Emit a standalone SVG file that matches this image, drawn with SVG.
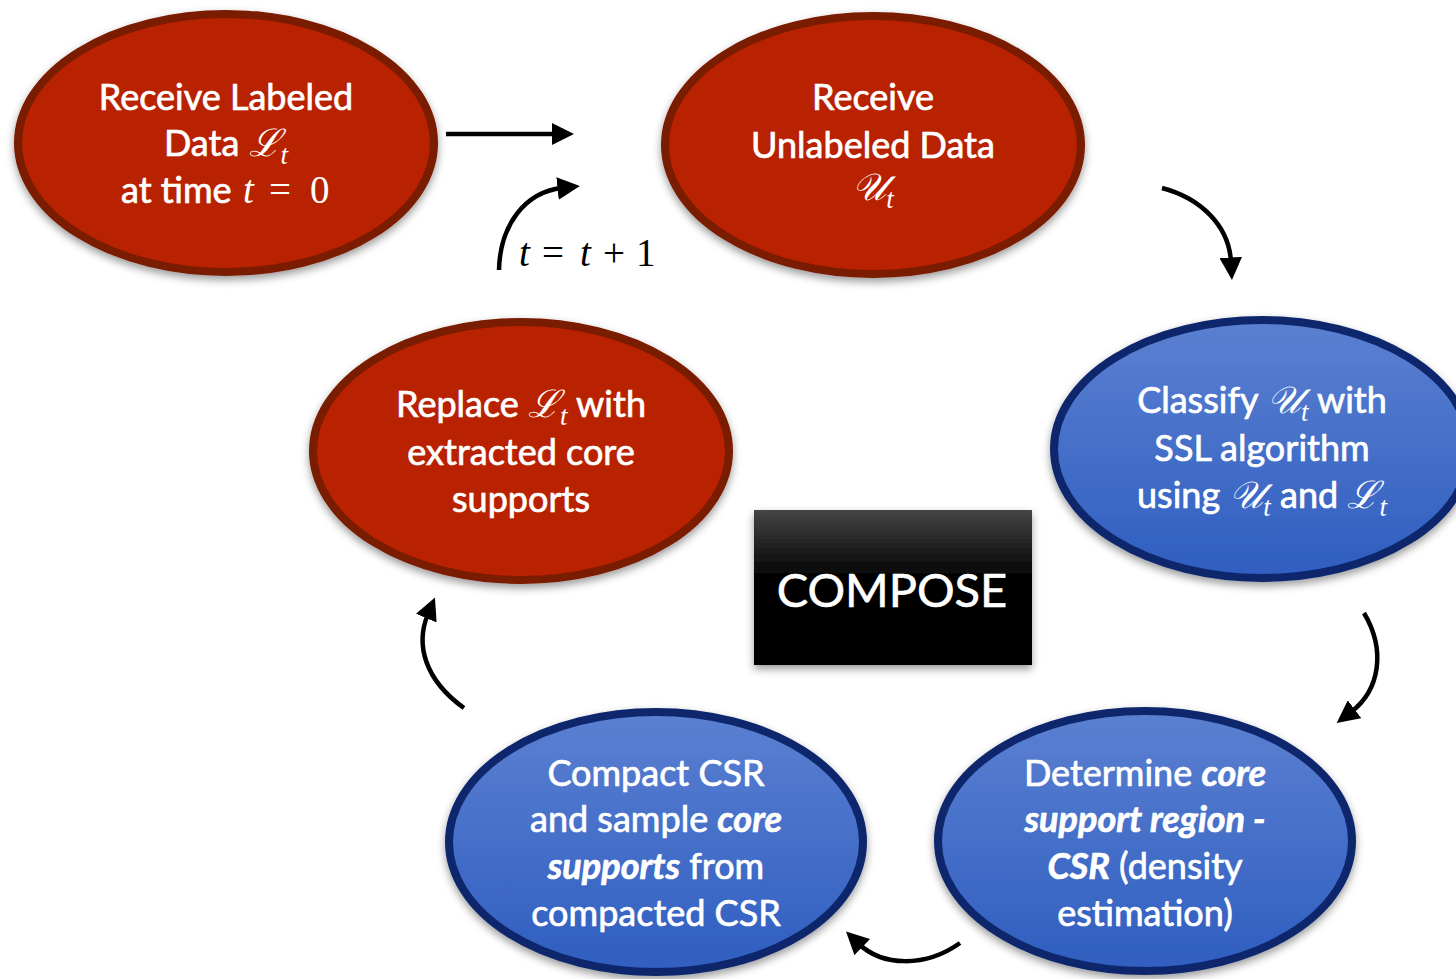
<svg xmlns="http://www.w3.org/2000/svg" width="1456" height="979" viewBox="0 0 1456 979">
  <defs>
    <linearGradient id="blueFill" x1="0" y1="0" x2="0" y2="1">
      <stop offset="0" stop-color="#5b80d1"/>
      <stop offset="1" stop-color="#2f5ec0"/>
    </linearGradient>
    <linearGradient id="boxFill" x1="0" y1="0" x2="0" y2="1">
      <stop offset="0" stop-color="#454545"/>
      <stop offset="0.45" stop-color="#000000"/>
      <stop offset="1" stop-color="#000000"/>
    </linearGradient>
    <filter id="shadow" x="-10%" y="-10%" width="120%" height="130%">
      <feDropShadow dx="0" dy="4" stdDeviation="4" flood-color="#000" flood-opacity="0.4"/>
    </filter>
    <marker id="head" viewBox="0 0 10 10" refX="2" refY="5" markerWidth="5" markerHeight="5" markerUnits="strokeWidth" orient="auto">
      <path d="M0,0 L10,5 L0,10 z" fill="#000"/>
    </marker>
  </defs>
  <style>
    .red { fill: #b92200; stroke: #7a1a00; stroke-width: 8; }
    .blue { fill: url(#blueFill); stroke: #0e286c; stroke-width: 8; }
    .lbl { font-family: Lato, "Noto Sans", sans-serif; font-size: 36px; fill: #fff; stroke: #fff; stroke-width: 0.7; text-anchor: middle; }
    .start { text-anchor: start; }
    .m { font-family: "DejaVu Serif", "Liberation Serif", serif; font-style: italic; font-size: 38px; stroke-width: 0; }
    .sub { font-family: "Liberation Serif", serif; font-style: italic; font-size: 27px; stroke-width: 0; }
    .bi { font-weight: bold; font-style: italic; }
    .conn { fill: none; stroke: #000; stroke-width: 4.5; }
    .eq { font-family: "Liberation Serif", serif; font-size: 39px; }
    .it { font-style: italic; }
  </style>

  <rect width="1456" height="979" fill="#fff"/>

  <!-- connectors -->
  <g id="connectors">
    <path class="conn" d="M446,134 L556,134" stroke-width="5" marker-end="url(#head)"/>
    <path class="conn" d="M499,270 C500,225 525,192 562,188" marker-end="url(#head)"/>
    <path class="conn" d="M1162,188 C1200,198 1229,225 1231,262" marker-end="url(#head)"/>
    <path class="conn" d="M1364,613 C1386,650 1380,690 1351,712" marker-end="url(#head)"/>
    <path class="conn" d="M960,943 C925,968 882,966 859,944" marker-end="url(#head)"/>
    <path class="conn" d="M464,708 C425,680 415,645 428,614" marker-end="url(#head)"/>
    <text class="eq" y="266" fill="#000"><tspan class="it" x="519">t</tspan><tspan x="542">=</tspan><tspan class="it" x="580">t</tspan><tspan x="603">+</tspan><tspan x="636">1</tspan></text>
  </g>

  <g id="receive-labeled">
    <ellipse class="red" cx="226" cy="143" rx="208" ry="129" filter="url(#shadow)"/>
    <text class="lbl" x="226" y="110">Receive Labeled</text>
    <text class="lbl" x="226" y="156">Data <tspan class="m">ℒ</tspan><tspan class="sub" dy="8">t</tspan></text>
    <text class="lbl start" x="121" y="203">at time</text>
    <text class="eq" y="203" fill="#fff"><tspan class="it" x="243">t</tspan><tspan x="269">=</tspan><tspan x="310">0</tspan></text>
  </g>

  <g id="receive-unlabeled">
    <ellipse class="red" cx="873" cy="145" rx="208" ry="129" filter="url(#shadow)"/>
    <text class="lbl" x="873" y="110">Receive</text>
    <text class="lbl" x="873" y="158">Unlabeled Data</text>
    <text class="lbl" x="873" y="200"><tspan class="m">𝒰</tspan><tspan class="sub" dy="8">t</tspan></text>
  </g>

  <g id="classify">
    <ellipse class="blue" cx="1262" cy="449" rx="208" ry="129" filter="url(#shadow)"/>
    <text class="lbl" x="1262" y="413">Classify <tspan class="m">𝒰</tspan><tspan class="sub" dy="8">t</tspan><tspan dy="-8"> with</tspan></text>
    <text class="lbl" x="1262" y="461">SSL algorithm</text>
    <text class="lbl" x="1262" y="508">using <tspan class="m">𝒰</tspan><tspan class="sub" dy="8">t</tspan><tspan dy="-8"> and </tspan><tspan class="m">ℒ</tspan><tspan class="sub" dy="8">t</tspan></text>
  </g>

  <g id="replace">
    <ellipse class="red" cx="521" cy="451" rx="208" ry="129" filter="url(#shadow)"/>
    <text class="lbl" x="521" y="417">Replace <tspan class="m">ℒ</tspan><tspan class="sub" dy="8">t</tspan><tspan dy="-8"> with</tspan></text>
    <text class="lbl" x="521" y="465">extracted core</text>
    <text class="lbl" x="521" y="512">supports</text>
  </g>

  <g id="compose">
    <rect x="754" y="510" width="278" height="155" fill="url(#boxFill)" filter="url(#shadow)"/>
    <text x="892" y="607" font-family="Lato, 'Noto Sans', sans-serif" font-size="47" fill="#fff" stroke="#fff" stroke-width="0.6" text-anchor="middle">COMPOSE</text>
  </g>

  <g id="determine">
    <ellipse class="blue" cx="1145" cy="841" rx="207" ry="130" filter="url(#shadow)"/>
    <text class="lbl" x="1145" y="786">Determine <tspan class="bi">core</tspan></text>
    <text class="lbl bi" x="1145" y="832">support region -</text>
    <text class="lbl" x="1145" y="879"><tspan class="bi">CSR</tspan> (density</text>
    <text class="lbl" x="1145" y="926">estimation)</text>
  </g>

  <g id="compact">
    <ellipse class="blue" cx="656" cy="842" rx="207" ry="130" filter="url(#shadow)"/>
    <text class="lbl" x="656" y="786">Compact CSR</text>
    <text class="lbl" x="656" y="832">and sample <tspan class="bi">core</tspan></text>
    <text class="lbl" x="656" y="879"><tspan class="bi">supports</tspan> from</text>
    <text class="lbl" x="656" y="926">compacted CSR</text>
  </g>
</svg>
